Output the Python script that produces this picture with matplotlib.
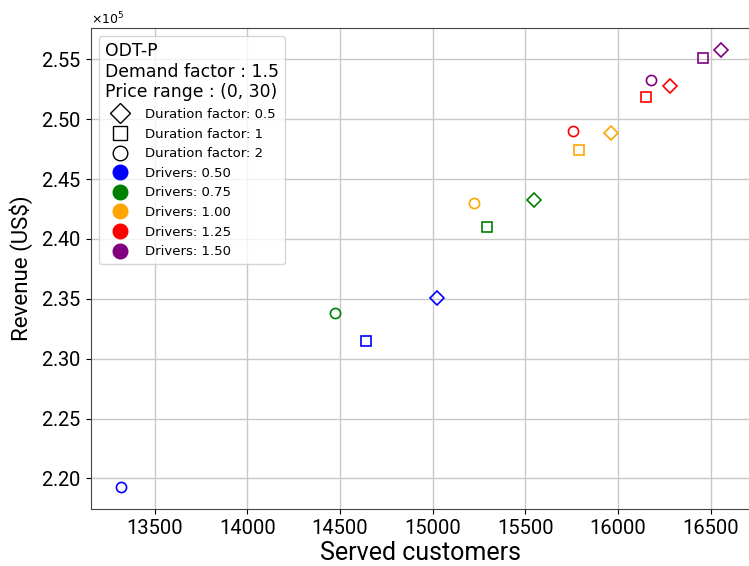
import numpy as np
import matplotlib.pyplot as plt
from matplotlib.lines import Line2D
from matplotlib.ticker import ScalarFormatter

# Drivers levels and colours
drivers = [0.50, 0.75, 1.00, 1.25, 1.50]
colors = ["blue", "green", "orange", "red", "purple"]

# Duration factors and markers
durations = [0.5, 1, 2]
markers = ["D", "s", "o"]

# Served customers [drivers][duration 0.5, 1, 2]
served = [
    [15023, 14642, 13319],
    [15547, 15294, 14471],
    [15964, 15790, 15222],
    [16278, 16152, 15754],
    [16554, 16455, 16177],
]

# Revenue (US$) [drivers][duration 0.5, 1, 2]
revenue = [
    [235100, 231460, 219270],
    [243270, 240970, 233850],
    [248860, 247400, 242960],
    [252800, 251840, 249050],
    [255790, 255140, 253300],
]

plt.rcParams['font.family'] = ['Roboto', 'DejaVu Sans']

fig = plt.figure(figsize=(7.49, 5.66), dpi=100)
ax = fig.add_axes([0.1215, 0.1007, 0.881, 0.8498])

for i in range(len(drivers)):
    for j in range(len(durations)):
        ax.plot(served[i][j], revenue[i][j], marker=markers[j], linestyle="none",
                markersize=7.3, markerfacecolor="none", markeredgecolor=colors[i],
                markeredgewidth=1.2)

ax.grid(True, color="#c8c8c8", linewidth=1)
ax.set_axisbelow(True)
ax.set_xticks([13500, 14000, 14500, 15000, 15500, 16000, 16500])
for s in ax.spines.values():
    s.set_color("#444444")

fmt = ScalarFormatter(useMathText=True)
fmt.set_powerlimits((0, 0))
ax.yaxis.set_major_formatter(fmt)
ax.yaxis.get_offset_text().set_fontsize(9)
ax.yaxis.get_offset_text().set_family('DejaVu Sans')

ax.tick_params(labelsize=14.5)
ax.set_xlabel("Served customers", fontsize=18, labelpad=2)
ax.set_ylabel("Revenue (US\\$)", fontsize=16, labelpad=6)

handles = []
for d, m in zip(durations, markers):
    handles.append(Line2D([], [], marker=m, linestyle="none", markersize=10.5,
                          markerfacecolor="white", markeredgecolor="black",
                          label=f"Duration factor: {d}"))
for dr, c in zip(drivers, colors):
    handles.append(Line2D([], [], marker="o", linestyle="none", markersize=10.5,
                          markerfacecolor=c, markeredgecolor=c,
                          label=f"Drivers: {dr:.2f}"))

leg = ax.legend(handles=handles, loc="upper left",
                title="ODT-P\nDemand factor : 1.5\nPrice range : (0, 30)",
                prop={"family": "DejaVu Sans", "size": 9.5},
                title_fontproperties={"family": "DejaVu Sans", "size": 12.4},
                alignment="left", labelspacing=0.5, handletextpad=0.72,
                handlelength=2.3, borderpad=0.45, borderaxespad=0.6)

fig.savefig("out.png", dpi=100)
